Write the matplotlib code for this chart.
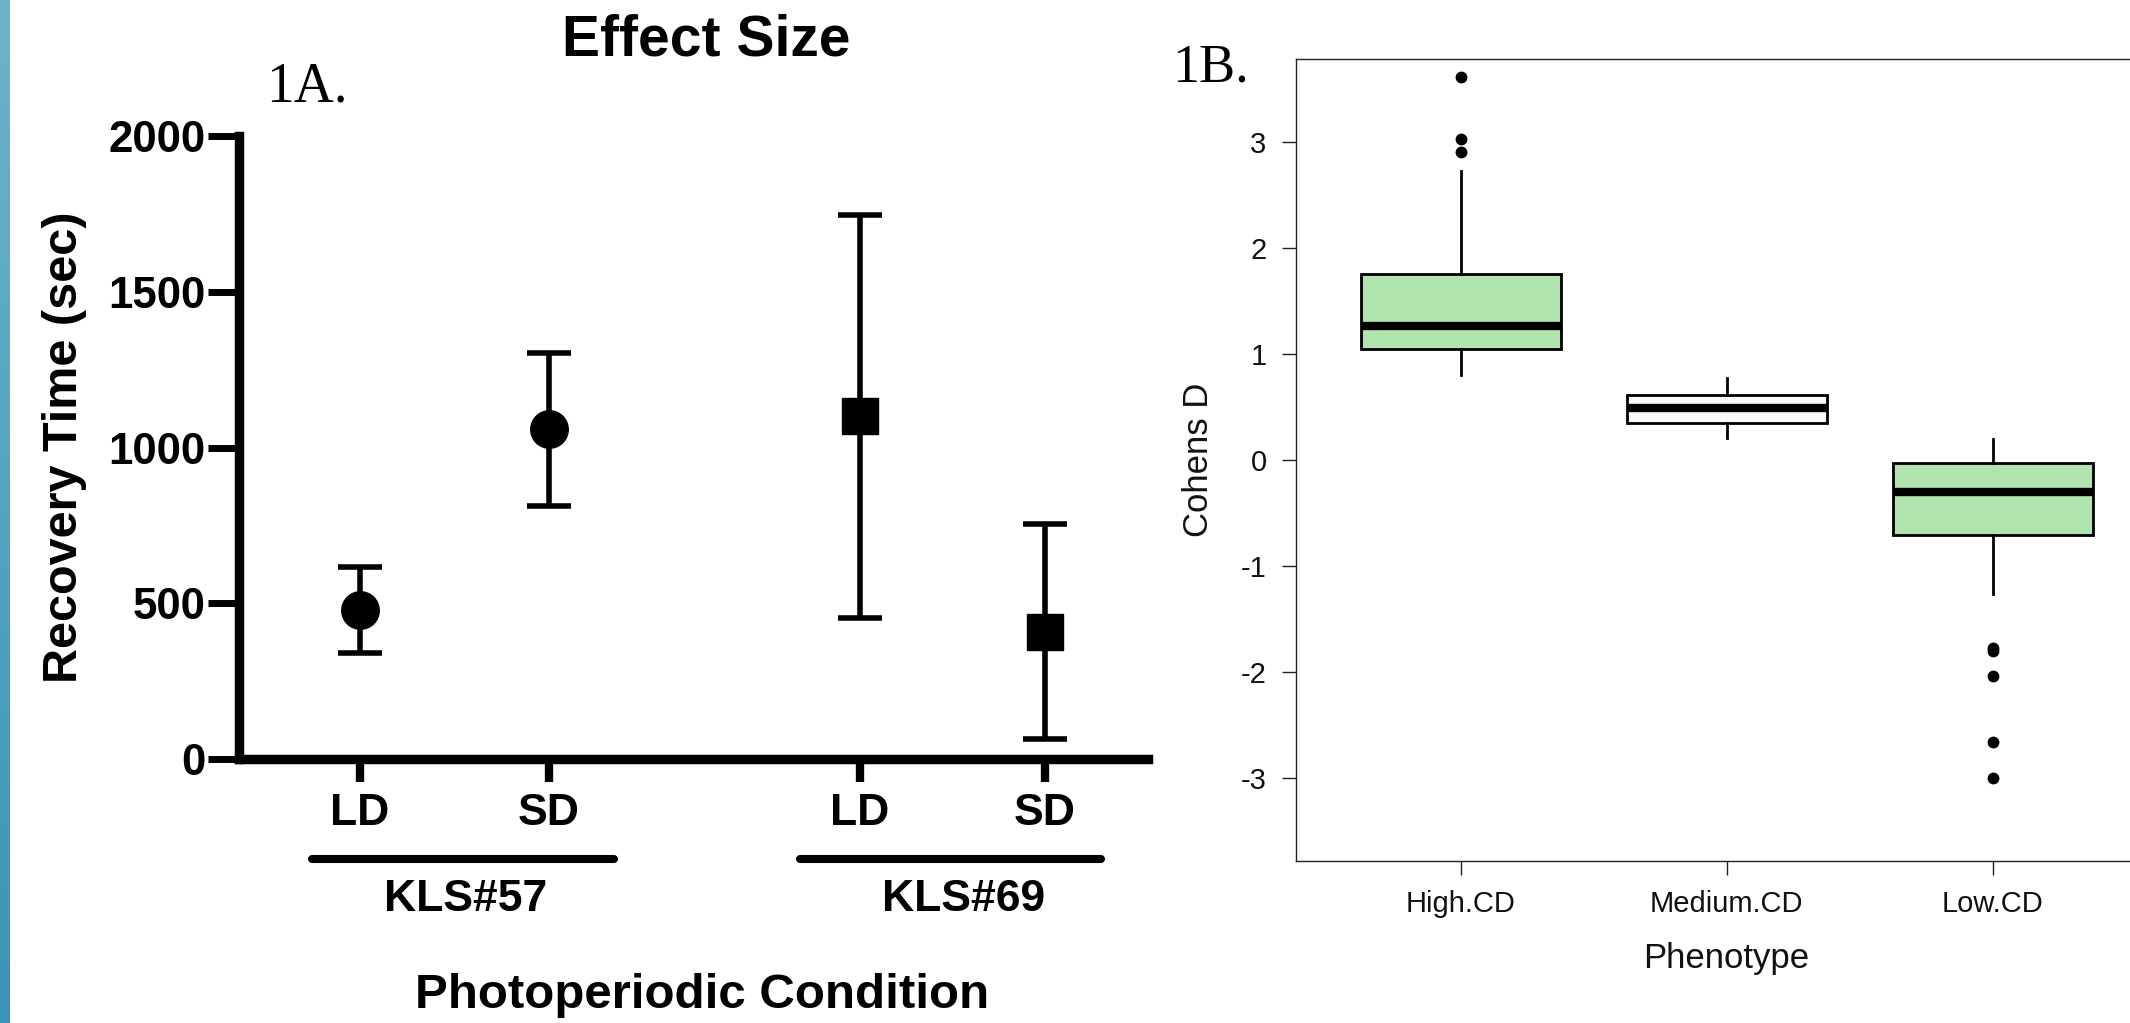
import matplotlib
matplotlib.use('Agg')
import matplotlib.pyplot as plt
import numpy as np
from matplotlib.colors import LinearSegmentedColormap

plt.rcParams['font.family'] = ['Liberation Sans', 'DejaVu Sans']

# ---------------- data ----------------
# Panel 1A: recovery time (mean +/- error)
conditions = ['LD', 'SD', 'LD', 'SD']
strains = ['KLS#57', 'KLS#69']
means = [478, 1058, 1100, 409]
errors = [138, 246, 646, 344]
y_ticks_a = [0, 500, 1000, 1500, 2000]

# Panel 1B: Cohen's D boxplot summary statistics
phenotypes = ['High.CD', 'Medium.CD', 'Low.CD']
q1 = [1.046, 0.351, -0.711]
med = [1.266, 0.490, -0.300]
q3 = [1.754, 0.615, -0.032]
whislo = [0.800, 0.204, -1.265]
whishi = [2.730, 0.773, 0.197]
fliers_high = [3.615, 3.03, 2.905]
fliers_medium = []
fliers_low = [-1.775, -1.80, -2.036, -2.658, -3.004]
y_ticks_b = [-3, -2, -1, 0, 1, 2, 3]

# ---------------- figure ----------------
W, H = 2130, 1023
fig = plt.figure(figsize=(W / 100, H / 100), dpi=100)


def fx(px):
    return px / W


def fy(py):
    return 1 - py / H


# left decorative blue strip
sax = fig.add_axes([0, 0, fx(10), 1])
cmap = LinearSegmentedColormap.from_list('strip', ['#6DB3CB', '#3A94B7'])
sax.imshow(np.linspace(0, 1, 256).reshape(-1, 1), aspect='auto', cmap=cmap)
sax.axis('off')

# ---------------- Panel 1A ----------------
L, R, T, B = 238.5, 1147.5, 136, 759
ax1 = fig.add_axes([fx(L), fy(B), fx(R - L), (B - T) / H])
pos = [1, 2, 3.646, 4.624]
upx = 189.0
ax1.set_xlim(1 + (L - 360) / upx, 1 + (R - 360) / upx)
ax1.set_ylim(0, 2000)

for i in range(4):
    mk = 'o' if i < 2 else 's'
    ms = 27 if i < 2 else 26
    ax1.errorbar(pos[i], means[i], yerr=errors[i], fmt=mk, color='black',
                 ms=ms, elinewidth=4, capsize=15.5, capthick=4, clip_on=False,
                 zorder=3)

for s in ['top', 'right']:
    ax1.spines[s].set_visible(False)
for s in ['left', 'bottom']:
    ax1.spines[s].set_linewidth(6.8)

ax1.set_yticks(y_ticks_a)
ax1.set_yticklabels([str(v) for v in y_ticks_a], fontsize=31.5, fontweight='bold')
ax1.set_xticks(pos)
ax1.set_xticklabels(conditions, fontsize=32, fontweight='bold')
ax1.tick_params(axis='y', length=22, width=5, pad=2)
ax1.tick_params(axis='x', length=16.5, width=6, pad=8)

trans = ax1.get_xaxis_transform()
y_line = (B - 859) / (B - T)
y_lab = (B - 911) / (B - T)
spans = [(-0.254, 0.344), (-0.318, 0.297)]
for g in range(2):
    a, b = pos[2 * g], pos[2 * g + 1]
    ax1.plot([a + spans[g][0], b + spans[g][1]], [y_line, y_line], transform=trans,
             color='black', lw=5.8, solid_capstyle='round', clip_on=False)
    ax1.text((a + b) / 2 + 0.06, y_lab, strains[g], transform=trans, ha='center',
             va='baseline', fontsize=32, fontweight='bold')

fig.text(fx(706), fy(56), 'Effect Size', ha='center', va='baseline',
         fontsize=41, fontweight='bold')
fig.text(fx(266), fy(101), '1A.', ha='left', va='baseline', fontsize=40,
         family='Liberation Serif')
fig.text(fx(702), fy(1008), 'Photoperiodic Condition', ha='center', va='baseline',
         fontsize=35.5, fontweight='bold')
fig.text(fx(65), fy(447), 'Recovery Time (sec)', rotation=90, ha='center',
         va='center', fontsize=35, fontweight='bold')

# ---------------- Panel 1B ----------------
BL, BR, BT, BB = 1295.7, 2158, 59.3, 860.5
ax2 = fig.add_axes([fx(BL), fy(BB), fx(BR - BL), (BB - BT) / H])
all_fliers = [fliers_high, fliers_medium, fliers_low]
stats = []
for i in range(3):
    stats.append(dict(label=phenotypes[i], q1=q1[i], med=med[i], q3=q3[i],
                      whislo=whislo[i], whishi=whishi[i], fliers=all_fliers[i]))
bp = ax2.bxp(stats, positions=[1, 2, 3], widths=0.75, patch_artist=True,
             showcaps=False,
             boxprops=dict(linewidth=2, edgecolor='black'),
             medianprops=dict(color='black', linewidth=6, solid_capstyle='butt'),
             whiskerprops=dict(color='black', linewidth=2),
             flierprops=dict(marker='o', markerfacecolor='black',
                             markeredgecolor='black', markersize=7.5))
fills = ['#B2E4B0', '#FAFAFA', '#B2E4B0']
for patch, c in zip(bp['boxes'], fills):
    patch.set_facecolor(c)

ax2.set_xlim(0.38, 3.62)
ax2.set_ylim(-3.78, 3.78)
ax2.set_yticks(y_ticks_b)
ax2.set_yticklabels([str(v) for v in y_ticks_b])
ax2.set_xticks([1, 2, 3])
ax2.set_xticklabels(phenotypes)
for s in ax2.spines.values():
    s.set_linewidth(1.0)
    s.set_color('#222222')
ax2.tick_params(axis='both', length=10, width=1, labelsize=21, pad=11,
                color='#222222', labelcolor='#111111')

fig.text(fx(1726), fy(968), 'Phenotype', ha='center', va='baseline', fontsize=25,
         color='#111111')
fig.text(fx(1198), fy(460), 'Cohens D', rotation=90, ha='center', va='center',
         fontsize=25, color='#111111')
fig.text(fx(1172), fy(82), '1B.', ha='left', va='baseline', fontsize=39,
         family='Liberation Serif')

fig.savefig('out.png', dpi=100)
